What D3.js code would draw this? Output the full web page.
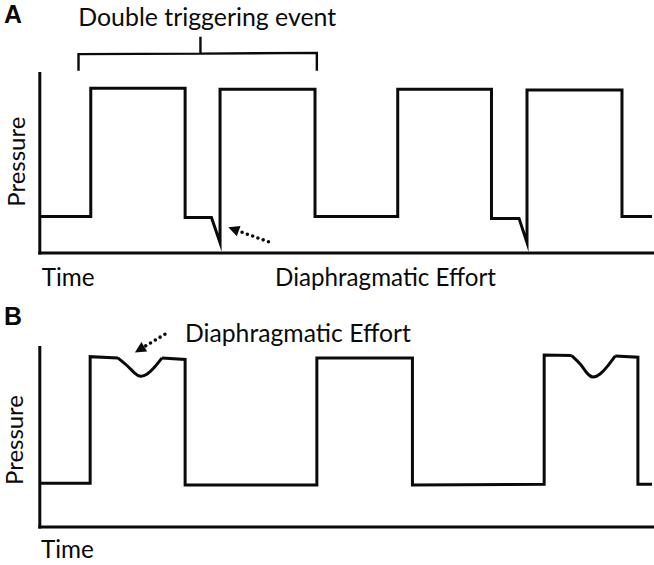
<!DOCTYPE html>
<html><head><meta charset="utf-8">
<script src="https://cdn.jsdelivr.net/npm/d3@7"></script>
<style>body{margin:0;background:#fff}svg{display:block;background:#fff}</style>
</head><body><svg id="c" width="654" height="565"></svg>
<script>
// ---------- data (time in s, pressure in arbitrary units 0-10) ----------
// Panel A: double triggering
const timeA     = [0, 0.84, 0.84, 2.38, 2.38, 2.81, 2.95, 2.95, 4.50, 4.50, 5.85, 5.85, 7.38, 7.38, 7.83, 7.96, 7.96, 9.51, 9.51, 10];
const pressureA = [2.0, 2.0, 9.15, 9.15, 1.95, 1.95, 0.55, 9.1, 9.1, 2.0, 2.0, 9.1, 9.1, 1.9, 1.9, 0.55, 9.05, 9.05, 2.0, 2.0];
// Panel B: ineffective effort during inspiration (null = dip drawn separately)
const timeB     = [0, 0.83, 0.83, 1.284, 1.5, 2.003, 2.38, 2.38, 4.53, 4.53, 6.09, 6.09, 8.24, 8.24, 8.69, 9.0, 9.40, 9.77, 9.77, 10];
const pressureB = [2.41, 2.41, 9.46, 9.39, null, 9.39, 9.31, 2.31, 2.31, 9.39, 9.39, 2.31, 2.35, 9.55, 9.52, null, 9.50, 9.43, 2.35, 2.35];
const dip1Time     = [1.284, 1.448, 1.562, 1.645, 1.759, 1.889, 2.003];
const dip1Pressure = [9.39, 8.94, 8.50, 8.33, 8.44, 8.89, 9.39];
const dip2Time     = [8.69, 8.84, 8.94, 9.03, 9.15, 9.28, 9.40];
const dip2Pressure = [9.52, 9.05, 8.50, 8.26, 8.44, 8.94, 9.50];
// annotations
const bracketTime     = [0.64, 0.64, 2.63, 2.63, 2.63, 4.53, 4.53];
const bracketPressure = [10.13, 11.05, 11.08, 12.02, 11.08, 11.12, 10.13];
const arrowATime = [3.74, 3.085], arrowAPressure = [0.60, 1.40];
const arrowBTime = [2.05, 1.56],  arrowBPressure = [10.71, 9.70];
const labels = {title: "Double triggering event", time: "Time", pressure: "Pressure", effort: "Diaphragmatic Effort"};

// ---------- layout ----------
const svg = d3.select("#c");
const x = d3.scaleLinear().domain([0, 10]).range([39.3, 652]);
const yA = d3.scaleLinear().domain([0, 10]).range([252.5, 73]);
const yB = d3.scaleLinear().domain([0, 10]).range([526.5, 347]);
const INK = "#0a0a0a";
const FONT = "Lato, 'Open Sans', sans-serif";

function zip(t, p){ return t.map((d,i)=>({t:d, p:p[i]})); }

function drawAxes(y){
  const gx = svg.append("g").attr("transform", `translate(0,${y.range()[0]})`)
    .call(d3.axisBottom(x).tickValues([]).tickSizeOuter(0));
  const gy = svg.append("g").attr("transform", `translate(${x.range()[0]},0)`)
    .call(d3.axisLeft(y).tickValues([]).tickSizeOuter(0));
  [gx, gy].forEach(g => g.select(".domain").attr("stroke", INK).attr("stroke-width", 3)
    .attr("stroke-linecap", "square"));
}
function drawLine(data, y, curve, sw = 3){
  const line = d3.line().defined(d => d.p != null).x(d => x(d.t)).y(d => y(d.p)).curve(curve);
  svg.append("path").datum(data).attr("d", line).attr("fill", "none")
    .attr("stroke", INK).attr("stroke-width", sw).attr("stroke-linejoin", "miter")
    .attr("stroke-miterlimit", 10);
}
function drawArrow(t, p, y){
  const x0 = x(t[0]), y0 = y(p[0]), x1 = x(t[1]), y1 = y(p[1]);
  const ang = Math.atan2(y1 - y0, x1 - x0), L = 11, Wd = 5.5;
  const bx = x1 - L*Math.cos(ang), by = y1 - L*Math.sin(ang);
  svg.append("line").attr("x1", x0).attr("y1", y0).attr("x2", bx).attr("y2", by)
    .attr("stroke", INK).attr("stroke-width", 3.6).attr("stroke-linecap", "round")
    .attr("stroke-dasharray", "0 5.6");
  svg.append("path").attr("fill", INK).attr("d",
    `M${x1},${y1}L${bx + Wd*Math.sin(ang)},${by - Wd*Math.cos(ang)}L${bx - Wd*Math.sin(ang)},${by + Wd*Math.cos(ang)}Z`);
}
function text(str, xx, yy, target, opts = {}){
  const t = svg.append("text").text(str).attr("x", xx).attr("y", yy)
    .attr("font-family", opts.family || FONT).attr("font-size", 24)
    .attr("font-weight", opts.weight || "normal").attr("fill", INK)
    .attr("text-anchor", opts.anchor || "start");
  if (opts.transform) t.attr("transform", opts.transform);
  if (target){ const w = t.node().getComputedTextLength(); t.attr("font-size", 24*target/w); }
  return t;
}

// ---------- panel A ----------
drawAxes(yA);
drawLine(zip(timeA, pressureA), yA, d3.curveLinear);
drawLine(zip(bracketTime, bracketPressure), yA, d3.curveLinear, 2.4);
drawArrow(arrowATime, arrowAPressure, yA);
text("A", 4, 23, 18, {weight: "bold", family: "'Liberation Sans', Arial, sans-serif"});
text(labels.title, 78.3, 25.5, 258);
text(labels.time, 41.7, 285.7, 53);
text(labels.effort, 275, 285.7, 221);
text(labels.pressure, 0, 0, 90, {anchor: "middle", transform: "translate(25,161.7) rotate(-90)"});

// ---------- panel B ----------
drawAxes(yB);
drawLine(zip(timeB, pressureB), yB, d3.curveLinear);
drawLine(zip(dip1Time, dip1Pressure), yB, d3.curveBasis);
drawLine(zip(dip2Time, dip2Pressure), yB, d3.curveBasis);
drawArrow(arrowBTime, arrowBPressure, yB);
text("B", 4, 325, 18, {weight: "bold", family: "'Liberation Sans', Arial, sans-serif"});
text(labels.time, 41, 558, 53);
text(labels.effort, 185, 342, 226);
text(labels.pressure, 0, 0, 90, {anchor: "middle", transform: "translate(23,440) rotate(-90)"});
</script></body></html>
